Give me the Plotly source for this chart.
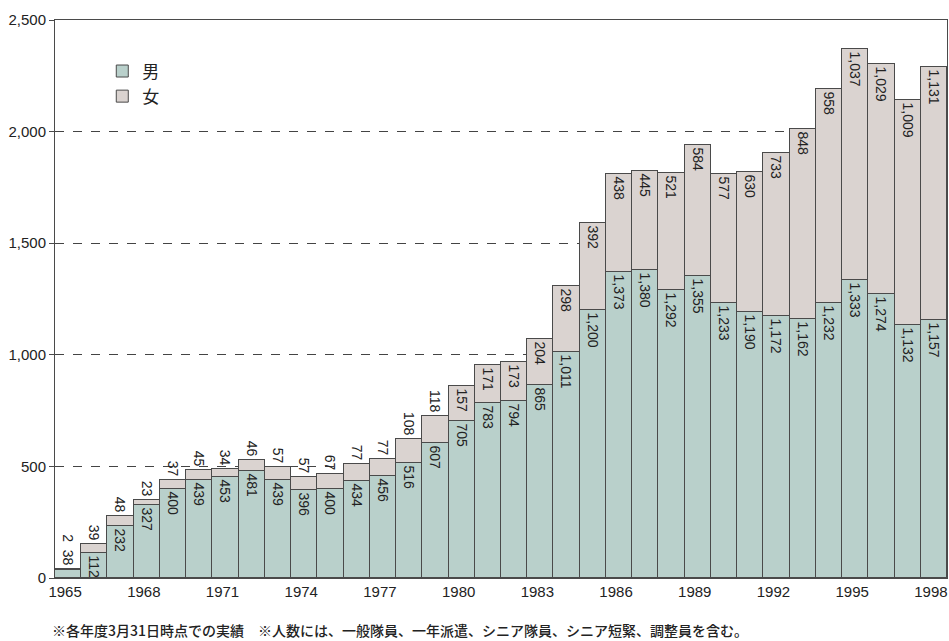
import plotly.graph_objects as go

years = list(range(1965, 1999))
male = [38, 112, 232, 327, 400, 439, 453, 481, 439, 396, 400, 434, 456, 516, 607,
        705, 783, 794, 865, 1011, 1200, 1373, 1380, 1292, 1355, 1233, 1190, 1172,
        1162, 1232, 1333, 1274, 1132, 1157]
female = [2, 39, 48, 23, 37, 45, 34, 46, 57, 57, 67, 77, 77, 108, 118, 157, 171,
          173, 204, 298, 392, 438, 445, 521, 584, 577, 630, 733, 848, 958, 1037,
          1029, 1009, 1131]
x_ticks = list(range(1965, 1999, 3))
y_ticks = [0, 500, 1000, 1500, 2000, 2500]
y_tick_labels = ["0", "500", "1,000", "1,500", "2,000", "2,500"]
footnote = "※各年度3月31日時点での実績　※人数には、一般隊員、一年派遣、シニア隊員、シニア短緊、調整員を含む。"

MALE_MIN_INSIDE = 60
FEMALE_MIN_INSIDE = 150

male_text, male_pos = [], []
female_text, female_pos = [], []
for m, f in zip(male, female):
    if m < MALE_MIN_INSIDE:
        male_text.append("")
        female_text.append(f"{f:,}  {m:,}")
        female_pos.append("outside")
    else:
        male_text.append(f"{m:,}")
        female_text.append(f"{f:,}")
        female_pos.append("inside" if f >= FEMALE_MIN_INSIDE else "outside")
    male_pos.append("inside")

font_family = "Liberation Sans, Arial, sans-serif"
cjk_family = "Noto Sans CJK JP, sans-serif"
line_col = "#4a4a4a"

fig = go.Figure()
fig.add_trace(go.Bar(
    x=years, y=male, name="男", width=1, legendgroup="m",
    marker=dict(color="#b9d0cb", line=dict(color=line_col, width=1)),
    text=male_text, textposition=male_pos, textangle=90,
    insidetextanchor="end", constraintext="none",
    textfont=dict(family=font_family, size=14, color="#222"),
))
fig.add_trace(go.Bar(
    x=years, y=female, name="女", width=1, legendgroup="f",
    marker=dict(color="#dad3d0", line=dict(color=line_col, width=1)),
    text=female_text, textposition=female_pos, textangle=90,
    insidetextanchor="end", constraintext="none", cliponaxis=False,
    textfont=dict(family=font_family, size=14, color="#222"),
))

fig.update_layout(
    width=949, height=641,
    barmode="stack", bargap=0,
    plot_bgcolor="white", paper_bgcolor="white",
    margin=dict(l=55, r=2, t=20, b=63),
    font=dict(family=font_family, size=15, color="#222"),
    uniformtext=dict(minsize=8, mode="show"),
    legend=dict(
        x=0.053, y=0.94, xanchor="left", yanchor="top",
        traceorder="normal", bgcolor="rgba(0,0,0,0)",
        font=dict(family=cjk_family, size=17, color="#222"),
        tracegroupgap=14,
    ),
    annotations=[dict(
        text=footnote, xref="paper", yref="paper", x=-0.006, y=-0.093,
        xanchor="left", yanchor="middle", showarrow=False,
        font=dict(family=cjk_family, size=14, color="#222", weight=500),
    )],
)
fig.update_xaxes(
    range=[1964.5, 1998.5], tickvals=x_ticks, ticktext=[str(v) for v in x_ticks],
    showgrid=False, showline=True, linecolor=line_col, linewidth=1, mirror=True,
    ticks="", tickfont=dict(size=15), zeroline=False, automargin=False,
    ticklabeloverflow="allow", ticklabelshift=-3,
)
fig.update_yaxes(
    range=[0, 2500], tickvals=y_ticks, ticktext=y_tick_labels,
    showgrid=True, gridcolor="#444", griddash="dash", gridwidth=1,
    showline=True, linecolor=line_col, linewidth=1, mirror=True,
    ticks="outside", ticklen=5, tickcolor=line_col, tickfont=dict(size=15),
    zeroline=False, automargin=False,
)

fig.write_html(
    "out.html",
    config={"displayModeBar": False},
    post_script="document.body.style.margin='0';document.body.style.overflow='hidden';",
)
